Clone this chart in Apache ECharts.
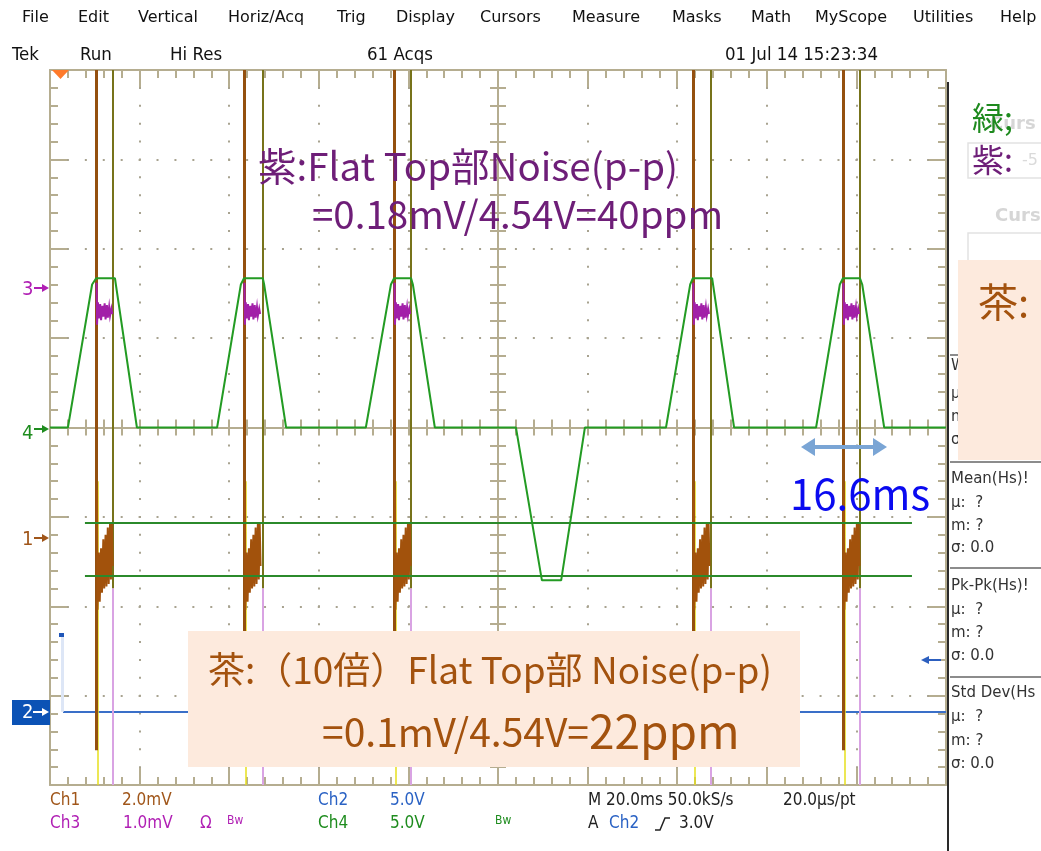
<!DOCTYPE html>
<html lang="ja">
<head>
<meta charset="UTF-8">
<title>Tek scope capture</title>
<script src="https://cdn.jsdelivr.net/npm/echarts@6/dist/echarts.min.js"></script>
<style>
    html, body { margin: 0; padding: 0; background: #fff; }
    #scope { width: 1041px; height: 851px; }
</style>
</head>
<body>
<div id="scope"></div>
<script>
    // x: time in ms (20 ms/div), y: screen divisions
    const timeMin = -100, timeMax = 100, timeDiv = 20;
    const divMin = -4, divMax = 4;

    // Ch4 (green) trapezoid pulses, [ms, div]
    const ch4Trace = [
        [-100, 0], [-96.0, 0], [-90.6, 1.60], [-89.7, 1.67], [-85.5, 1.67], [-85.3, 1.60], [-80.6, 0],
        [-62.7, 0], [-57.4, 1.60], [-56.7, 1.67], [-52.5, 1.67], [-52.2, 1.60], [-47.3, 0],
        [-29.5, 0], [-23.9, 1.60], [-23.2, 1.67], [-19.4, 1.67], [-19.0, 1.60], [-14.1, 0],
        [4.0, 0], [9.8, -1.71], [14.1, -1.71], [19.4, 0],
        [37.5, 0], [42.9, 1.60], [43.5, 1.67], [47.8, 1.67], [48.0, 1.60], [52.7, 0],
        [71.0, 0], [76.3, 1.60], [77.0, 1.67], [80.8, 1.67], [81.3, 1.60], [86.2, 0],
        [100, 0]
    ];

    // edges where Ch1/Ch3 switch (ms)
    const risingEdges = [-89.7, -56.7, -23.2, 43.5, 77.0];
    const fallingEdges = [-85.9, -52.5, -19.4, 47.5, 80.8];

    // Ch3 (magenta) flat top ripple: [ms after rising edge, div]
    const ch3Ripple = [
        [0.1, 1.62], [0.2, 1.15], [0.4, 1.40], [0.6, 1.22], [0.9, 1.38], [1.1, 1.20], [1.4, 1.36],
        [1.6, 1.24], [1.9, 1.39], [2.1, 1.21], [2.4, 1.37], [2.6, 1.23], [2.9, 1.35], [3.1, 1.25],
        [3.4, 1.33], [3.6, 1.27]
    ];
    // Ch1 (brown) x10 ripple: [ms after rising edge, div]
    const ch1Ripple = [
        [0.2, -0.70], [0.3, -2.04], [0.6, -1.40], [0.8, -1.95], [1.1, -1.35], [1.3, -1.85],
        [1.6, -1.25], [1.8, -1.80], [2.1, -1.20], [2.3, -1.78], [2.6, -1.12], [2.8, -1.75],
        [3.1, -1.08], [3.3, -1.70], [3.5, -1.06], [3.7, -1.55]
    ];

    // horizontal cursors (div) and their span (ms)
    const cursorLevels = [-1.07, -1.66];
    const cursorSpan = [-92.2, 92.4];

    // Ch2 (blue) level and trigger bar
    const ch2Level = -3.18;
    const ch2Start = -97.1;
    const trigBar = [-97.3, -2.33];

    const tan = '#b5ad90';
    const dotColor = '#a8a390';
    const jpFont = "'Noto Sans CJK JP', sans-serif";
    const uiFont = "'DejaVu Sans', sans-serif";
    const tekFont = "'DejaVu Sans Condensed', 'Liberation Sans Narrow', sans-serif";

    function edgeAxis(pos, dash, withSplit) {
        const isY = pos === 'left' || pos === 'right';
        return {
            type: 'value', min: isY ? divMin : timeMin, max: isY ? divMax : timeMax,
            interval: isY ? 1 : timeDiv,
            position: pos,
            axisLine: { show: true, onZero: false, lineStyle: { color: tan, width: 2 } },
            axisTick: { show: true, inside: true, length: 17, lineStyle: { color: tan, width: 2 } },
            minorTick: { show: true, splitNumber: 5, length: 8, lineStyle: { color: tan, width: 2 } },
            axisLabel: { show: false },
            splitLine: withSplit
                ? { show: true, lineStyle: { color: dotColor, width: 2, type: dash, dashOffset: 1 } }
                : { show: false }
        };
    }

    function centerAxis(isY, inside) {
        return {
            type: 'value', min: isY ? divMin : timeMin, max: isY ? divMax : timeMax,
            interval: isY ? 1 : timeDiv,
            position: isY ? 'left' : 'bottom',
            axisLine: { show: true, onZero: true, onZeroAxisIndex: 0, lineStyle: { color: tan, width: 2 } },
            axisTick: { show: true, inside: inside, length: 8, lineStyle: { color: tan, width: 2 } },
            minorTick: { show: true, splitNumber: 5, length: 8, lineStyle: { color: tan, width: 2 } },
            axisLabel: { show: false },
            splitLine: { show: false }
        };
    }

    function txt(x, y, text, color, size, font, extra) {
        return Object.assign({
            type: 'text', x: x, y: y, z: 100,
            style: { text: text, fill: color, font: size + 'px ' + font, verticalAlign: 'middle' }
        }, extra || {});
    }

    function arrowRight(x1, x2, y, color) {
        return [
            { type: 'line', z: 100, shape: { x1: x1, y1: y, x2: x2 - 5, y2: y }, style: { stroke: color, lineWidth: 2 } },
            { type: 'polygon', z: 100, shape: { points: [[x2, y], [x2 - 7, y - 4], [x2 - 7, y + 4]] }, style: { fill: color } }
        ];
    }

    const menu = [
        ['File', 22], ['Edit', 78], ['Vertical', 138], ['Horiz/Acq', 228], ['Trig', 337], ['Display', 396],
        ['Cursors', 480], ['Measure', 572], ['Masks', 672], ['Math', 751], ['MyScope', 815],
        ['Utilities', 913], ['Help', 1000]
    ];

    const graphics = [];
    menu.forEach(m => graphics.push(txt(m[1], 18, m[0], '#111', 16, uiFont)));
    [['Tek', 12], ['Run', 80], ['Hi Res', 170], ['61 Acqs', 367], ['01 Jul 14 15:23:34', 725]]
        .forEach(s => graphics.push(txt(s[1], 55, s[0], '#111', 18.5, tekFont)));

    // bottom readout
    [
        ['Ch1', 50, 801, '#a0561a'], ['2.0mV', 122, 801, '#a0561a'], ['Ch2', 318, 801, '#2a62c4'],
        ['5.0V', 390, 801, '#2a62c4'], ['M 20.0ms 50.0kS/s', 588, 801, '#222'], ['20.0\u03bcs/pt', 783, 801, '#222'],
        ['Ch3', 50, 824, '#b01fb4'], ['1.0mV', 123, 824, '#b01fb4'], ['\u03a9', 200, 824, '#b01fb4'],
        ['Ch4', 318, 824, '#1e8c1e'], ['5.0V', 390, 824, '#1e8c1e'],
        ['A', 588, 824, '#222'], ['Ch2', 609, 824, '#2a62c4'], ['3.0V', 679, 824, '#222']
    ].forEach(r => graphics.push(txt(r[1], r[2], r[0], r[3], 17, tekFont)));
    graphics.push(txt(227, 821, 'Bw', '#b01fb4', 12, tekFont));
    graphics.push(txt(495, 821, 'Bw', '#1e8c1e', 12, tekFont));
    graphics.push({ type: 'polyline', z: 100, shape: { points: [[655, 830], [660, 830], [665, 818], [670, 818]] }, style: { stroke: '#222', lineWidth: 1.5, fill: null } });

    // channel markers on the left
    graphics.push(txt(22, 290, '3', '#b01fb4', 20, tekFont));
    graphics.push(...arrowRight(34, 49, 288, '#b01fb4'));
    graphics.push(txt(22, 434, '4', '#1e8c1e', 20, tekFont));
    graphics.push(...arrowRight(34, 49, 429, '#1e8c1e'));
    graphics.push(txt(22, 540, '1', '#a0561a', 20, tekFont));
    graphics.push(...arrowRight(34, 49, 538, '#a0561a'));
    graphics.push({ type: 'rect', z: 99, shape: { x: 12, y: 700, width: 38, height: 25 }, style: { fill: '#0b52b5' } });
    graphics.push(txt(22, 713, '2', '#fff', 20, tekFont));
    graphics.push(...arrowRight(33, 49, 712, '#fff'));

    // trigger position and level markers
    graphics.push({ type: 'polygon', z: 100, shape: { points: [[52, 70], [69, 70], [60.5, 79]] }, style: { fill: '#ff7a2a' } });
    graphics.push({ type: 'rect', z: 100, shape: { x: 59, y: 633, width: 5, height: 4 }, style: { fill: '#1f56b8' } });
    graphics.push({ type: 'line', z: 100, shape: { x1: 928, y1: 660, x2: 941, y2: 660 }, style: { stroke: '#2c5fbf', lineWidth: 2 } });
    graphics.push({ type: 'polygon', z: 100, shape: { points: [[921, 660], [929, 656], [929, 664]] }, style: { fill: '#2c5fbf' } });

    // right measurement panel
    graphics.push({ type: 'line', z: 100, shape: { x1: 948, y1: 82, x2: 948, y2: 851 }, style: { stroke: '#2a2a2a', lineWidth: 2 } });
    [355, 462, 568, 677].forEach(y => graphics.push({ type: 'line', z: 100, shape: { x1: 950, y1: y, x2: 1041, y2: y }, style: { stroke: '#666', lineWidth: 1.5 } }));
    [
        ['W', 366], ['\u03bc', 394], ['m', 417], ['\u03c3', 440],
        ['Mean(Hs)!', 479], ['\u03bc:  ?', 503], ['m: ?', 526], ['\u03c3: 0.0', 548],
        ['Pk-Pk(Hs)!', 586], ['\u03bc:  ?', 610], ['m: ?', 633], ['\u03c3: 0.0', 656],
        ['Std Dev(Hs', 693], ['\u03bc:  ?', 717], ['m: ?', 741], ['\u03c3: 0.0', 764]
    ].forEach(p => graphics.push(txt(951, p[1], p[0], '#333', 15, uiFont)));

    // faded cursor readout behind annotations
    graphics.push(txt(990, 124, 'Curs', '#d6d6d6', 18, uiFont, { style: { text: 'Curs', fill: '#d6d6d6', font: 'bold 18px ' + uiFont, verticalAlign: 'middle' } }));
    graphics.push({ type: 'rect', z: 100, shape: { x: 968, y: 143, width: 80, height: 35 }, style: { fill: null, stroke: '#e2e2e2', lineWidth: 1.5 } });
    graphics.push(txt(1022, 161, '-5', '#dadada', 16, uiFont));
    graphics.push(txt(995, 216, 'Curs', '#d6d6d6', 18, uiFont, { style: { text: 'Curs', fill: '#d6d6d6', font: 'bold 18px ' + uiFont, verticalAlign: 'middle' } }));
    graphics.push({ type: 'rect', z: 100, shape: { x: 968, y: 233, width: 80, height: 30 }, style: { fill: null, stroke: '#e2e2e2', lineWidth: 1.5 } });

    // annotations
    graphics.push(txt(258, 166, '紫:Flat Top部Noise(p-p)', '#6e1e78', 38.5, jpFont));
    graphics.push(txt(312, 214, '=0.18mV/4.54V=40ppm', '#6e1e78', 38.5, jpFont));
    graphics.push(txt(972, 118, '緑;', '#1e8a1e', 32, jpFont));
    graphics.push(txt(972, 160, '紫:', '#6e1e78', 32, jpFont));
    graphics.push({ type: 'rect', z: 101, shape: { x: 958, y: 260, width: 90, height: 200 }, style: { fill: '#fdeadd' } });
    graphics.push(txt(978, 302, '茶:', '#a3520e', 40, jpFont, { z: 102 }));
    graphics.push({ type: 'rect', z: 101, shape: { x: 188, y: 631, width: 612, height: 136 }, style: { fill: '#fdeadd' } });
    graphics.push(txt(208, 670, '茶:（10倍）Flat Top部 Noise(p-p)', '#a3520e', 37, jpFont, { z: 102 }));
    graphics.push({
        type: 'text', x: 322, y: 732, z: 102,
        style: {
            text: '{a|=0.1mV/4.54V=}{b|22ppm}', verticalAlign: 'middle',
            rich: {
                a: { fill: '#a3520e', font: '39px ' + jpFont },
                b: { fill: '#a3520e', font: '46px ' + jpFont }
            }
        }
    });
    graphics.push(txt(790, 494, '16.6ms', '#0a0af0', 42, jpFont));
    graphics.push({ type: 'line', z: 100, shape: { x1: 812, y1: 447, x2: 876, y2: 447 }, style: { stroke: '#7aa5d5', lineWidth: 4 } });
    graphics.push({ type: 'polygon', z: 100, shape: { points: [[801, 447], [815, 438], [815, 456]] }, style: { fill: '#7aa5d5' } });
    graphics.push({ type: 'polygon', z: 100, shape: { points: [[887, 447], [873, 438], [873, 456]] }, style: { fill: '#7aa5d5' } });

    function vLines(times, offset, top, bottom) {
        return times.map(t => ({ coords: [[t + offset, top], [t + offset, bottom]] }));
    }
    function linesSeries(data, color, width, polyline, z) {
        return {
            type: 'lines', coordinateSystem: 'cartesian2d', polyline: !!polyline, data: data,
            lineStyle: { color: color, width: width, opacity: 1 }, silent: true, z: z || 3
        };
    }

    const option = {
        animation: false,
        grid: { left: 50, top: 70, width: 896, height: 715 },
        xAxis: [
            edgeAxis('bottom', [2, 15.875], true),
            edgeAxis('top', null, false),
            centerAxis(false, true),
            centerAxis(false, false)
        ],
        yAxis: [
            edgeAxis('left', [2, 15.92], true),
            edgeAxis('right', null, false),
            centerAxis(true, true),
            centerAxis(true, false)
        ],
        series: [
            linesSeries([{ coords: [[ch2Start, ch2Level], [timeMax, ch2Level]] }], '#3a6fc8', 2),
            linesSeries([{ coords: [[trigBar[0], trigBar[1]], [trigBar[0], ch2Level]] }], '#dde6f6', 3),
            linesSeries(vLines(risingEdges, 0.35, -0.6, divMin), '#e6df1c', 1.5, false, 3),
            linesSeries(vLines(risingEdges, 0, divMax, -3.61), '#94500f', 3, false, 4),
            linesSeries(vLines(fallingEdges, 0, divMax, -1.8), '#77731a', 2, false, 4),
            linesSeries(vLines(fallingEdges, 0, -1.8, divMin), '#d9a3e3', 2, false, 4),
            linesSeries(risingEdges.map(t => ({ coords: ch1Ripple.map(p => [t + p[0], p[1]]) })), '#a2520c', 2, true, 5),
            linesSeries(risingEdges.map(t => ({ coords: ch3Ripple.map(p => [t + p[0], p[1]]) })), '#a21fa8', 2, true, 5),
            linesSeries(cursorLevels.map(l => ({ coords: [[cursorSpan[0], l], [cursorSpan[1], l]] })), '#2b8a2b', 2, false, 6),
            {
                type: 'line', data: ch4Trace, symbol: 'none', silent: true, z: 7,
                lineStyle: { color: '#239b23', width: 2 }
            }
        ],
        graphic: graphics
    };

    const chart = echarts.init(document.getElementById('scope'));
    chart.setOption(option);
</script>
</body>
</html>
